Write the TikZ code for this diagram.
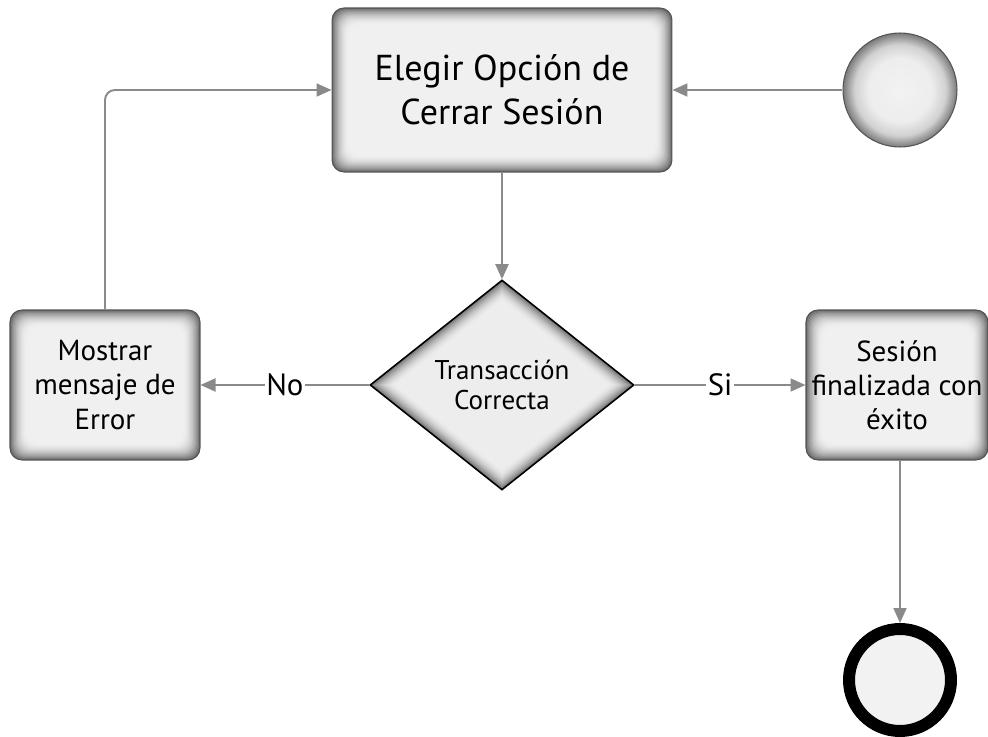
\documentclass[tikz,border=0pt]{standalone}
\usepackage{fontspec}
\setmainfont{PT Sans}
\usetikzlibrary{shapes.geometric,arrows.meta,calc}
\definecolor{cline}{RGB}{138,138,138}
\definecolor{cedge}{RGB}{85,85,85}
\definecolor{cfill}{RGB}{242,242,242}
\pgfdeclareradialshading{ballglow}{\pgfpointorigin}{color(0bp)=(cfill); color(14bp)=(black!7); color(20bp)=(black!18); color(25bp)=(black!52); color(50bp)=(black!52)}

\tikzset{
  glowbox/.style={draw=cedge, line width=0.6pt, rounded corners=0.24cm, align=center, inner sep=0pt,
    path picture={
      \foreach \i in {0,...,16}{
        \pgfmathsetmacro\shade{6+52*(1-\i/16)^2}
        \fill[black!\shade, rounded corners=0.24cm]
          ([shift={(\i*0.6pt,\i*0.6pt)}]path picture bounding box.south west) rectangle
          ([shift={(-\i*0.6pt,-\i*0.6pt)}]path picture bounding box.north east);
      }
    }},
  glowdiamond/.style={diamond, draw=black, line width=0.9pt, align=center, inner sep=0pt,
    minimum width=5.28cm, minimum height=4.2cm,
    path picture={
      \foreach \i in {0,...,14}{
        \pgfmathsetmacro\shade{7+48*(1-\i/14)^2}
        \pgfmathsetmacro\f{\i/14*0.2}
        \fill[black!\shade]
          ($(path picture bounding box.north)!\f!(path picture bounding box.center)$) --
          ($(path picture bounding box.east)!\f!(path picture bounding box.center)$) --
          ($(path picture bounding box.south)!\f!(path picture bounding box.center)$) --
          ($(path picture bounding box.west)!\f!(path picture bounding box.center)$) -- cycle;
      }
    }},
  flow/.style={draw=cline, line width=1.1pt, -{Triangle[length=0.3cm,width=0.26cm]}},
  lbl/.style={fill=white, inner sep=1pt, font=\fontsize{17.5}{20}\selectfont},
}

\begin{document}
\begin{tikzpicture}[x=0.02cm, y=-0.02cm]
\useasboundingbox (0,0) rectangle (988,737);

\node[glowbox, minimum width=6.8cm, minimum height=3.28cm, font=\fontsize{20.5}{25}\selectfont]
  (elegir) at (502,90) {Elegir Opción de\\Cerrar Sesión};
\node[circle, draw=cedge, line width=0.6pt, shading=ballglow, minimum size=2.28cm, inner sep=0pt]
  (inicio) at (900,90) {};
\node[glowdiamond, font=\fontsize{15.4}{17.5}\selectfont]
  (trans) at (502,385) {Transacción\\Correcta};
\node[glowbox, minimum width=3.8cm, minimum height=3cm, font=\fontsize{16.5}{19.4}\selectfont]
  (error) at (105,385) {Mostrar\\mensaje de\\Error};
\node[glowbox, minimum width=3.64cm, minimum height=3cm, font=\fontsize{16.5}{19.4}\selectfont]
  (exito) at (897,385) {Sesión\\finalizada con\\éxito};
\node[circle, draw=black, line width=0.24cm, fill=cfill, minimum size=2.04cm, inner sep=0pt]
  (fin) at (900,680) {};

\draw[flow] (inicio) -- (elegir);
\draw[flow] (elegir) -- (trans);
\draw[flow] (trans) -- node[lbl]{No} (error);
\draw[flow] (trans) -- node[lbl]{Si} (exito);
\draw[flow, rounded corners=0.2cm] (error.north) |- (elegir.west);
\draw[flow] (exito.south -| fin.north) -- (fin.north);

\end{tikzpicture}
\end{document}
